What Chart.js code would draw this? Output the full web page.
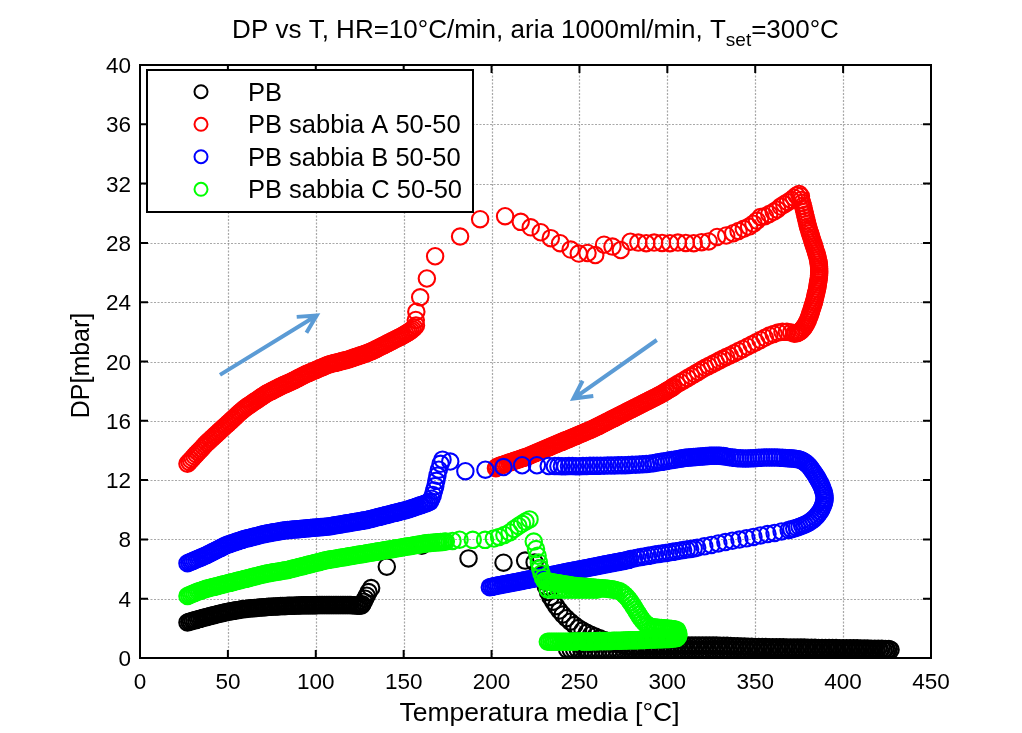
<!DOCTYPE html>
<html>
<head>
<meta charset="utf-8">
<script src="https://cdn.jsdelivr.net/npm/chart.js@4.4.1/dist/chart.umd.min.js"></script>
<style>
  html, body { margin: 0; padding: 0; background: #ffffff; }
  canvas { display: block; }
</style>
</head>
<body>
<canvas id="c" width="1022" height="733" style="width:1022px;height:733px"></canvas>
<script>
// Axis ticks
const xTicks = [0, 50, 100, 150, 200, 250, 300, 350, 400, 450];
const yTicks = [0, 4, 8, 12, 16, 20, 24, 28, 32, 36, 40];

const seriesNames = ['PB', 'PB sabbia A 50-50', 'PB sabbia B 50-50', 'PB sabbia C 50-50'];

// Measurements: flat lists of [T, DP, T, DP, ...]
// --- PB ---
const pbHeat = [27,2.40, 28,2.44, 29,2.47, 30,2.51, 31,2.54, 32,2.57, 33,2.61, 34,2.64, 35,2.67, 36,2.71, 37,2.74, 38,2.77, 39,2.80, 40,2.83, 41,2.86, 42,2.89, 43,2.92, 44,2.95, 45,2.98, 46,3.01, 47,3.04, 48,3.07, 49,3.09, 50,3.12, 51,3.14, 52,3.16, 53,3.18, 54,3.20, 55,3.22, 56,3.24, 57,3.26, 58,3.28, 59,3.30, 60,3.31, 61,3.33, 62,3.34, 63,3.35, 64,3.36, 65,3.37, 66,3.38, 67,3.39, 68,3.40, 69,3.41, 70,3.42, 71,3.43, 72,3.44, 73,3.45, 74,3.46, 75,3.46, 76,3.47, 77,3.48, 78,3.48, 79,3.49, 80,3.50, 81,3.50, 82,3.51, 83,3.51, 84,3.52, 85,3.52, 86,3.53, 87,3.53, 88,3.53, 89,3.54, 90,3.54, 91,3.54, 92,3.55, 93,3.55, 94,3.55, 95,3.55, 96,3.56, 97,3.56, 98,3.56, 99,3.56, 100,3.56, 101,3.57, 102,3.57, 103,3.57, 104,3.57, 105,3.57, 106,3.57, 107,3.57, 108,3.57, 109,3.58, 110,3.58, 111,3.58, 112,3.58, 113,3.58, 114,3.58, 115,3.58, 116,3.58, 117,3.58, 118,3.57, 119,3.57, 120,3.57, 121,3.56, 122,3.55, 123,3.54, 124,3.53, 125,3.52, 126,3.54];
const pbJump = [126.5,3.62, 127.3,3.80, 128.1,4.00, 129,4.20, 130,4.45, 131.5,4.72, 140.4,6.16, 160.3,7.58, 186.9,6.72, 206.8,6.43, 219.1,6.57, 224.5,6.45];
const pbFall = [227.3,6.05, 228.4,5.60, 229.6,5.20, 230.8,4.85, 232.1,4.45, 233.5,4.12, 235.1,3.80, 236.8,3.50, 238.6,3.20, 240.5,2.93, 242.6,2.68, 244.8,2.45, 247.1,2.22, 249.4,2.02, 251.8,1.85, 254.2,1.70, 256.6,1.57, 259,1.45, 261.5,1.33, 264,1.22, 266.6,1.12, 269.2,1.03, 271.8,0.95, 274.5,0.88, 277.3,0.82, 280.1,0.77];
const pbLowA = [243,0.57, 245,0.56, 247,0.56, 249,0.55, 251,0.55, 253,0.55, 255,0.54, 257,0.54, 259,0.54, 261,0.55, 263,0.55, 265,0.55, 267,0.56, 269,0.56, 271,0.55, 273,0.56, 275,0.56, 277,0.57, 279,0.56, 281,0.56, 283,0.57, 285,0.57, 287,0.56, 289,0.57, 291,0.57, 293,0.58, 295,0.57, 297,0.57, 299,0.56, 301,0.57, 303,0.57, 305,0.56, 307,0.57, 309,0.56, 311,0.56, 313,0.57, 315,0.56, 317,0.56, 319,0.55, 321,0.56, 323,0.56, 325,0.57, 327,0.56, 329,0.56, 331,0.55, 333,0.56, 335,0.56, 337,0.56, 339,0.57, 341,0.56, 343,0.56, 345,0.55, 347,0.56, 349,0.56, 351,0.56, 353,0.55, 355,0.56, 357,0.56, 359,0.56, 361,0.55, 363,0.56, 365,0.56, 367,0.55, 369,0.56, 371,0.56, 373,0.55, 375,0.56, 377,0.56, 379,0.55, 381,0.56, 383,0.55, 385,0.56, 387,0.56, 389,0.55, 391,0.56, 393,0.55, 395,0.56, 397,0.55, 399,0.56, 401,0.55, 403,0.56, 405,0.55, 407,0.55, 409,0.56, 411,0.55, 413,0.55, 415,0.56, 417,0.55, 419,0.55, 421,0.55, 423,0.56, 425,0.55, 427,0.55];
const pbLowB = [282,0.78, 284,0.79, 286,0.80, 288,0.80, 290,0.81, 292,0.81, 294,0.82, 296,0.82, 298,0.82, 300,0.83, 302,0.83, 304,0.83, 306,0.84, 308,0.84, 310,0.84, 312,0.85, 314,0.85, 316,0.85, 318,0.85, 320,0.85, 322,0.85, 324,0.84, 326,0.84, 328,0.84, 330,0.83, 332,0.83, 334,0.82, 336,0.81, 338,0.80, 340,0.79, 342,0.78, 344,0.77, 346,0.76, 348,0.76, 350,0.75, 352,0.75, 354,0.74, 356,0.74, 358,0.73, 360,0.73, 362,0.72, 364,0.72, 366,0.72, 368,0.71, 370,0.71, 372,0.71, 374,0.70, 376,0.70, 378,0.70, 380,0.69, 382,0.69, 384,0.69, 386,0.68, 388,0.68, 390,0.68, 392,0.67, 394,0.67, 396,0.67, 398,0.66, 400,0.66, 402,0.66, 404,0.65, 406,0.65, 408,0.65, 410,0.64, 412,0.64, 414,0.64, 416,0.63, 418,0.63, 420,0.62, 422,0.62, 424,0.61, 426,0.60];

// --- PB sabbia A 50-50 ---
const aHeat = [27,13.10, 28,13.23, 29,13.36, 30,13.49, 31,13.62, 32,13.75, 33,13.88, 34,14.00, 35,14.12, 36,14.25, 37,14.38, 38,14.50, 39,14.61, 40,14.72, 41,14.83, 42,14.94, 43,15.05, 44,15.16, 45,15.27, 46,15.38, 47,15.49, 48,15.60, 49,15.70, 50,15.81, 51,15.92, 52,16.03, 53,16.14, 54,16.25, 55,16.36, 56,16.47, 57,16.58, 58,16.68, 59,16.78, 60,16.87, 61,16.96, 62,17.04, 63,17.12, 64,17.20, 65,17.28, 66,17.36, 67,17.44, 68,17.52, 69,17.60, 70,17.68, 71,17.76, 72,17.84, 73,17.90, 74,17.96, 75,18.02, 76,18.08, 77,18.14, 78,18.20, 79,18.26, 80,18.32, 81,18.38, 82,18.43, 83,18.48, 84,18.53, 85,18.58, 86,18.64, 87,18.70, 88,18.76, 89,18.82, 90,18.88, 91,18.94, 92,19.00, 93,19.06, 94,19.12, 95,19.18, 96,19.23, 97,19.28, 98,19.33, 99,19.38, 100,19.43, 101,19.48, 102,19.53, 103,19.58, 104,19.63, 105,19.68, 106,19.73, 107,19.78, 108,19.82, 109,19.85, 110,19.88, 111,19.91, 112,19.94, 113,19.97, 114,20.00, 115,20.03, 116,20.06, 117,20.09, 118,20.12, 119,20.16, 120,20.20, 121,20.24, 122,20.28, 123,20.32, 124,20.36, 125,20.40, 126,20.44, 127,20.48, 128,20.52, 129,20.56, 130,20.61, 131,20.66, 132,20.71, 133,20.76, 134,20.82, 135,20.88, 136,20.94, 137,21.00, 138,21.06, 139,21.12, 140,21.18, 141,21.24, 142,21.30, 143,21.36, 144,21.42, 145,21.48, 146,21.54, 147,21.60, 148,21.66, 149,21.72, 150,21.79, 151,21.86, 152,21.93, 153,22.00, 154,22.08, 155,22.17, 156,22.28, 157,22.42];
const aTop = [156.9,22.80, 157.2,23.36, 159.4,24.33, 163.2,25.60, 167.9,27.10, 182.1,28.43, 193.5,29.60, 207.7,29.80, 216.6,29.42, 222.3,29.05, 228,28.72, 233.7,28.32, 239,27.98, 245,27.55, 249.6,27.28, 254.6,27.32, 259,27.18, 264,27.88, 268.8,27.75, 273.5,27.52, 279,28.08, 283.5,28.02, 288,27.98, 292.5,28.02, 297,28.00, 301.5,27.98, 306,28.02, 310.5,28.00, 315,27.98, 319.5,28.05, 323.5,28.10, 328.3,28.40, 333.5,28.50, 337.5,28.65, 340.5,28.80, 343.5,28.95, 346.5,29.10, 349,29.30, 351,29.50, 353,29.75, 355.5,29.80, 358,29.95, 360.5,30.10, 362.5,30.25, 364.5,30.45, 366.5,30.60, 368.5,30.75, 370.5,30.90, 372,31.05, 373.5,31.20, 375,31.30, 376,31.15];
const aTurn = [376.2,30.90, 376.7,30.70, 377.2,30.50, 377.6,30.30, 378.0,30.10, 378.4,29.90, 378.8,29.70, 379.2,29.50, 379.6,29.30, 380.0,29.10, 380.4,28.95, 380.8,28.80, 381.2,28.65, 381.6,28.50, 382.0,28.35, 382.4,28.20, 382.8,28.05, 383.2,27.90, 383.6,27.75, 384.0,27.60, 384.4,27.45, 384.8,27.30, 385.2,27.15, 385.5,27.00, 385.8,26.85, 386.0,26.70, 386.2,26.55, 386.3,26.40, 386.4,26.25, 386.4,26.10, 386.4,25.95, 386.3,25.80, 386.2,25.65, 386.0,25.50, 385.8,25.35, 385.6,25.20, 385.4,25.05, 385.2,24.90, 384.9,24.75, 384.6,24.60, 384.3,24.45, 384.0,24.30, 383.7,24.15, 383.4,24.00, 383.0,23.85, 382.6,23.70, 382.2,23.55, 381.8,23.40, 381.4,23.25, 381.0,23.10, 380.5,22.95, 380.0,22.80, 379.4,22.65, 378.8,22.50, 378.1,22.37, 377.4,22.25, 376.6,22.14, 375.8,22.05, 374.9,21.98, 374.0,21.93, 373.1,21.90, 372.2,21.88];
const aCoolSparse = [370.5,21.95, 368,22.00, 365.5,22.00, 363,21.95, 360.5,21.85, 358,21.75, 355.5,21.60, 353,21.45, 350.5,21.30, 348,21.15, 345.5,21.00, 343,20.85, 340.5,20.70, 338,20.55, 335.5,20.40, 333.5,20.30, 331.5,20.18, 329.5,20.06, 327.5,19.94, 325.5,19.82, 323.5,19.70, 321.5,19.58, 319.5,19.44, 317.5,19.30, 315.5,19.16, 313.5,19.02, 311.5,18.88, 309.5,18.74, 307.5,18.60, 305.5,18.46, 303.5,18.32];
const aCool = [303,18.25, 302,18.18, 301,18.11, 300,18.04, 299,17.97, 298,17.90, 297,17.83, 296,17.76, 295,17.70, 294,17.64, 293,17.58, 292,17.52, 291,17.46, 290,17.40, 289,17.34, 288,17.28, 287,17.22, 286,17.16, 285,17.10, 284,17.04, 283,16.98, 282,16.92, 281,16.86, 280,16.80, 279,16.74, 278,16.68, 277,16.62, 276,16.56, 275,16.50, 274,16.44, 273,16.38, 272,16.32, 271,16.26, 270,16.20, 269,16.14, 268,16.08, 267,16.02, 266,15.96, 265,15.90, 264,15.84, 263,15.78, 262,15.72, 261,15.66, 260,15.60, 259,15.54, 258,15.48, 257,15.43, 256,15.38, 255,15.33, 254,15.28, 253,15.23, 252,15.18, 251,15.13, 250,15.08, 249,15.03, 248,14.98, 247,14.93, 246,14.88, 245,14.83, 244,14.78, 243,14.73, 242,14.68, 241,14.63, 240,14.58, 239,14.53, 238,14.48, 237,14.43, 236,14.38, 235,14.33, 234,14.28, 233,14.23, 232,14.18, 231,14.13, 230,14.08, 229,14.03, 228,13.98, 227,13.93, 226,13.88, 225,13.83, 224,13.78, 223,13.73, 222,13.68, 221,13.63, 220,13.58, 219,13.54, 218,13.50, 217,13.46, 216,13.42, 215,13.38, 214,13.34, 213,13.30, 212,13.26, 211,13.22, 210,13.18, 209,13.14, 208,13.10, 207,13.06, 206,13.02, 205,12.98, 204,12.93, 203,12.88, 202.5,12.80];

// --- PB sabbia B 50-50 ---
const bHeat = [27,6.39, 28,6.44, 29,6.49, 30,6.54, 31,6.59, 32,6.64, 33,6.69, 34,6.74, 35,6.79, 36,6.85, 37,6.90, 38,6.95, 39,7.01, 40,7.07, 41,7.13, 42,7.19, 43,7.25, 44,7.31, 45,7.37, 46,7.43, 47,7.49, 48,7.55, 49,7.60, 50,7.65, 51,7.69, 52,7.73, 53,7.77, 54,7.81, 55,7.85, 56,7.89, 57,7.93, 58,7.97, 59,8.01, 60,8.04, 61,8.07, 62,8.10, 63,8.13, 64,8.16, 65,8.19, 66,8.22, 67,8.25, 68,8.28, 69,8.31, 70,8.34, 71,8.37, 72,8.40, 73,8.42, 74,8.44, 75,8.46, 76,8.48, 77,8.50, 78,8.52, 79,8.54, 80,8.56, 81,8.58, 82,8.60, 83,8.62, 84,8.63, 85,8.64, 86,8.65, 87,8.66, 88,8.67, 89,8.68, 90,8.69, 91,8.70, 92,8.71, 93,8.72, 94,8.73, 95,8.75, 96,8.76, 97,8.77, 98,8.78, 99,8.79, 100,8.80, 101,8.81, 102,8.82, 103,8.83, 104,8.84, 105,8.85, 106,8.86, 107,8.87, 108,8.89, 109,8.91, 110,8.93, 111,8.95, 112,8.97, 113,8.99, 114,9.01, 115,9.03, 116,9.05, 117,9.07, 118,9.09, 119,9.11, 120,9.13, 121,9.15, 122,9.17, 123,9.19, 124,9.21, 125,9.23, 126,9.25, 127,9.27, 128,9.29, 129,9.31, 130,9.34, 131,9.37, 132,9.40, 133,9.43, 134,9.46, 135,9.49, 136,9.52, 137,9.55, 138,9.58, 139,9.61, 140,9.64, 141,9.67, 142,9.70, 143,9.73, 144,9.76, 145,9.79, 146,9.82, 147,9.85, 148,9.88, 149,9.91, 150,9.94, 151,9.97, 152,10.00, 153,10.04, 154,10.08, 155,10.12, 156,10.16, 157,10.20, 158,10.24, 159,10.28, 160,10.32, 161,10.36, 162,10.40, 163,10.44, 164,10.49, 165,10.55];
const bJump = [165.8,10.75, 166.6,11.00, 167.3,11.30, 168,11.60, 168.6,11.95, 169.2,12.30, 170,12.70, 171,13.10, 172.1,13.38, 176.5,13.25, 185.1,12.60, 196.5,12.70, 206.8,12.88, 217.4,13.00, 225.8,13.00, 232.5,12.95];
const bTopSparse = [236,12.95, 238,12.95, 240,12.94, 242,12.94, 244,12.95, 246,12.95, 248,12.94, 250,12.94, 252,12.95, 254,12.95, 256,12.96, 258,12.96, 260,12.96, 262,12.97, 264,12.97, 266,12.98, 268,12.98, 270,12.99, 272,13.00, 274,13.00, 276,13.01, 278,13.02, 280,13.03, 282,13.04, 284,13.05, 286,13.07, 288,13.09, 290,13.11, 292,13.14, 293.5,13.17, 295,13.20, 296.5,13.23, 298,13.26, 299.5,13.29, 301,13.32, 302.5,13.35, 304,13.38, 305.5,13.41, 307,13.44];
const bTop = [308,13.46, 309,13.48, 310,13.50, 311,13.51, 312,13.52, 313,13.53, 314,13.54, 315,13.55, 316,13.56, 317,13.57, 318,13.58, 319,13.59, 320,13.60, 321,13.61, 322,13.62, 323,13.63, 324,13.64, 325,13.64, 326,13.65, 327,13.65, 328,13.65, 329,13.65, 330,13.64, 331,13.63, 332,13.62, 333,13.60, 334,13.57, 335.5,13.54, 337,13.52, 338.5,13.50, 340,13.48, 341.5,13.47, 343,13.46, 344.5,13.46, 346,13.46, 347.5,13.47, 349,13.48, 350.5,13.49, 352,13.50, 353.5,13.51, 355,13.52, 356.5,13.53, 358,13.53, 359.5,13.53, 361,13.52, 362.5,13.52, 364,13.51, 365.5,13.50, 367,13.49, 368.5,13.48, 369.5,13.47, 370.5,13.46, 371.5,13.45, 372.5,13.44, 373.5,13.43, 374.5,13.41];
const bTurn = [375.5,13.38, 376.5,13.33, 377.5,13.26, 378.5,13.18, 379.5,13.08, 380.5,12.97, 381.3,12.85, 382.1,12.72, 382.9,12.58, 383.7,12.44, 384.5,12.30, 385.3,12.15, 386.0,12.00, 386.7,11.85, 387.3,11.70, 387.9,11.55, 388.4,11.40, 388.8,11.25, 389.2,11.10, 389.4,10.95, 389.5,10.80, 389.4,10.65, 389.2,10.50, 388.8,10.35, 388.3,10.20, 387.7,10.05, 387.0,9.90, 386.2,9.76, 385.3,9.62, 384.3,9.49, 383.2,9.37, 382.0,9.26, 380.8,9.16, 379.5,9.07, 378.1,8.99, 376.7,8.92, 375.2,8.85, 373.7,8.79, 372.2,8.73, 370.6,8.68, 369,8.63];
const bCoolSparse = [365,8.54, 361,8.44, 357,8.36, 353,8.27, 349,8.17, 345,8.07, 341,7.99, 337,7.91, 333,7.82, 329,7.73, 325,7.63, 321,7.53, 317,7.44, 315,7.38, 313,7.35, 311,7.32, 309,7.28, 307,7.24, 305,7.20, 303,7.16, 301,7.12, 299,7.08, 297,7.05, 295,7.02, 293,6.98, 291,6.93, 289,6.89, 287,6.85, 285,6.81, 283,6.76, 281,6.72, 279,6.68];
const bCool = [278,6.62, 277,6.60, 276,6.58, 275,6.55, 274,6.53, 273,6.51, 272,6.48, 271,6.46, 270,6.44, 269,6.41, 268,6.39, 267,6.37, 266,6.34, 265,6.32, 264,6.30, 263,6.27, 262,6.25, 261,6.23, 260,6.20, 259,6.18, 258,6.16, 257,6.13, 256,6.11, 255,6.09, 254,6.06, 253,6.04, 252,6.02, 251,5.99, 250,5.97, 249,5.95, 248,5.92, 247,5.90, 246,5.88, 245,5.85, 244,5.83, 243,5.81, 242,5.78, 241,5.76, 240,5.74, 239,5.71, 238,5.69, 237,5.67, 236,5.64, 235,5.62, 234,5.60, 233,5.57, 232,5.55, 231,5.53, 230,5.50, 229,5.48, 228,5.46, 227,5.43, 226,5.41, 225,5.39, 224,5.36, 223,5.34, 222,5.32, 221,5.29, 220,5.27, 219,5.25, 218,5.22, 217,5.20, 216,5.18, 215,5.15, 214,5.13, 213,5.11, 212,5.08, 211,5.06, 210,5.04, 209,5.01, 208,4.99, 207,4.97, 206,4.94, 205,4.92, 204,4.90, 203,4.87, 202,4.85, 201,4.82, 200,4.80, 199,4.78];

// --- PB sabbia C 50-50 ---
const cHeat = [27,4.18, 28,4.23, 29,4.28, 30,4.33, 31,4.38, 32,4.43, 33,4.48, 34,4.52, 35,4.56, 36,4.60, 37,4.64, 38,4.68, 39,4.71, 40,4.74, 41,4.77, 42,4.80, 43,4.83, 44,4.86, 45,4.89, 46,4.92, 47,4.95, 48,4.98, 49,5.01, 50,5.04, 51,5.07, 52,5.10, 53,5.13, 54,5.16, 55,5.19, 56,5.22, 57,5.25, 58,5.28, 59,5.31, 60,5.34, 61,5.37, 62,5.40, 63,5.43, 64,5.46, 65,5.49, 66,5.52, 67,5.55, 68,5.58, 69,5.61, 70,5.64, 71,5.67, 72,5.70, 73,5.72, 74,5.74, 75,5.76, 76,5.78, 77,5.80, 78,5.82, 79,5.84, 80,5.86, 81,5.88, 82,5.90, 83,5.92, 84,5.94, 85,5.97, 86,6.00, 87,6.03, 88,6.06, 89,6.09, 90,6.12, 91,6.15, 92,6.18, 93,6.21, 94,6.24, 95,6.27, 96,6.30, 97,6.33, 98,6.36, 99,6.39, 100,6.42, 101,6.45, 102,6.48, 103,6.51, 104,6.54, 105,6.57, 106,6.60, 107,6.62, 108,6.64, 109,6.66, 110,6.68, 111,6.70, 112,6.72, 113,6.74, 114,6.76, 115,6.78, 116,6.80, 117,6.82, 118,6.84, 119,6.86, 120,6.88, 121,6.90, 122,6.92, 123,6.94, 124,6.96, 125,6.98, 126,7.00, 127,7.02, 128,7.04, 129,7.06, 130,7.08, 131,7.10, 132,7.12, 133,7.14, 134,7.16, 135,7.18, 136,7.20, 137,7.22, 138,7.24, 139,7.26, 140,7.28, 141,7.30, 142,7.32, 143,7.34, 144,7.36, 145,7.38, 146,7.40, 147,7.42, 148,7.44, 149,7.46, 150,7.48, 151,7.50, 152,7.52, 153,7.54, 154,7.56, 155,7.58, 156,7.60, 157,7.62, 158,7.64, 159,7.66, 160,7.68, 161,7.70, 162,7.72, 163,7.74, 164,7.75, 165,7.76, 166,7.77, 167,7.78, 168,7.79, 169,7.80, 170,7.81, 171,7.82, 172,7.83, 173,7.84, 174,7.85];
const cSparse = [177.8,7.90, 181.8,7.98, 189.3,7.97, 196.3,7.97, 201.3,8.06, 204.3,8.17, 207.3,8.30, 210.3,8.47, 212.8,8.70, 215.3,8.90, 217.3,9.05, 219.3,9.20, 221.6,9.35];
const cDrop = [224,7.85, 225.3,7.35, 226.2,6.90, 226.9,6.45, 227.6,6.05, 228.4,5.70, 229.3,5.40, 230.3,5.20];
const cPlateau = [231,5.18, 232,5.16, 233,5.14, 234,5.12, 235,5.10, 236,5.08, 237,5.06, 238,5.04, 239,5.02, 240,5.00, 241,4.98, 242,4.96, 243,4.94, 244,4.92, 245,4.90, 246,4.88, 247,4.86, 248,4.85, 249,4.84, 250,4.83, 251,4.82, 252,4.81, 253,4.80, 254,4.79, 255,4.78, 256,4.77, 257,4.76, 258,4.75, 259,4.74, 260,4.73, 261,4.72, 262,4.71, 263,4.70, 264,4.69, 265,4.68, 266,4.67, 267,4.66, 268,4.64, 269,4.62, 270,4.60, 271.5,4.56,
  232,4.62, 234,4.61, 236,4.61, 238,4.60, 240,4.60, 242,4.60, 244,4.60, 246,4.60, 248,4.60, 250,4.60, 252,4.60, 254,4.60, 256,4.60, 258,4.60, 260,4.60];
const cSlope = [273,4.50, 274.5,4.38, 275.8,4.24, 277,4.10, 278.1,3.94, 279.1,3.77, 280.1,3.60, 281,3.43, 281.9,3.26, 282.8,3.08, 283.7,2.91, 284.6,2.74, 285.6,2.58, 286.7,2.43, 287.8,2.30, 289,2.20, 290.3,2.12, 291.5,2.08, 292.5,2.06, 293.5,2.05, 294.5,2.04, 295.5,2.03, 296.5,2.02, 297.5,2.01, 298.5,2.00, 299.5,1.99, 300.5,1.98, 301.5,1.97, 302.5,1.96, 303.5,1.94, 304.5,1.92, 305.5,1.88, 305.8,1.78, 306.2,1.66, 306.3,1.55, 306.1,1.44, 305.5,1.36, 304.5,1.31];
const cLow = [303,1.30, 302,1.30, 301,1.29, 300,1.29, 299,1.28, 298,1.28, 297,1.27, 296,1.27, 295,1.26, 294,1.26, 293,1.25, 292,1.25, 291,1.24, 290,1.24, 289,1.23, 288,1.23, 287,1.22, 286,1.22, 285,1.21, 284,1.21, 283,1.20, 282,1.20, 281,1.20, 280,1.19, 279,1.19, 278,1.19, 277,1.18, 276,1.18, 275,1.18, 274,1.17, 273,1.17, 272,1.17, 271,1.16, 270,1.16, 269,1.16, 268,1.15, 267,1.15, 266,1.15, 265,1.15, 264,1.14, 263,1.14, 262,1.14, 261,1.14, 260,1.13, 259,1.13, 258,1.13, 257,1.13, 256,1.12, 255,1.12, 254,1.12, 253,1.12, 252,1.12, 251,1.11, 250,1.11, 249,1.11, 248,1.11, 247,1.11, 246,1.11, 245,1.10, 244,1.10, 243,1.10, 242,1.10, 241,1.10, 240,1.10, 239,1.10, 238,1.10, 237,1.10, 236,1.10, 235,1.10, 234,1.10, 233,1.10, 232,1.10];

// Direction arrows (heating / cooling), in data units
const arrowHeating = { from: [45.5, 19.1], to: [100.5, 23.1] };
const arrowCooling = { from: [294, 21.45], to: [246.6, 17.5] };

const FONT = "'Liberation Sans', Arial, Helvetica, sans-serif";
const COLORS = ['#000000', '#ff0000', '#0000ff', '#00ff00'];

function toPoints(flat) {
  const pts = [];
  for (let i = 0; i + 1 < flat.length; i += 2) pts.push({ x: flat[i], y: flat[i + 1] });
  return pts;
}

const seriesData = [
  [...pbHeat, ...pbJump, ...pbFall, ...pbLowA, ...pbLowB],
  [...aHeat, ...aTop, ...aTurn, ...aCoolSparse, ...aCool],
  [...bHeat, ...bJump, ...bTopSparse, ...bTop, ...bTurn, ...bCoolSparse, ...bCool],
  [...cHeat, ...cSparse, ...cDrop, ...cPlateau, ...cSlope, ...cLow]
];

function drawArrow(ctx, x1, y1, x2, y2) {
  const ang = Math.atan2(y2 - y1, x2 - x1);
  const head = 20, spread = Math.PI / 6.5;
  ctx.beginPath();
  ctx.moveTo(x1, y1);
  ctx.lineTo(x2, y2);
  ctx.moveTo(x2 - head * Math.cos(ang - spread), y2 - head * Math.sin(ang - spread));
  ctx.lineTo(x2, y2);
  ctx.lineTo(x2 - head * Math.cos(ang + spread), y2 - head * Math.sin(ang + spread));
  ctx.stroke();
}

const frame = {
  id: 'frame',
  beforeDraw(chart) {
    const ctx = chart.ctx;
    ctx.save();
    ctx.fillStyle = '#ffffff';
    ctx.fillRect(0, 0, chart.width, chart.height);
    ctx.restore();
  },
  beforeDatasetsDraw(chart) {
    const { ctx, chartArea: a, scales: { x, y } } = chart;
    ctx.save();
    ctx.strokeStyle = 'rgba(110,110,110,0.6)';
    ctx.lineWidth = 1.2;
    ctx.setLineDash([2, 1.5]);
    xTicks.forEach(v => {
      const px = Math.round(x.getPixelForValue(v)) + 0.5;
      if (v === xTicks[0] || v === xTicks[xTicks.length - 1]) return;
      ctx.beginPath(); ctx.moveTo(px, a.top); ctx.lineTo(px, a.bottom); ctx.stroke();
    });
    yTicks.forEach(v => {
      const py = Math.round(y.getPixelForValue(v)) + 0.5;
      if (v === yTicks[0] || v === yTicks[yTicks.length - 1]) return;
      ctx.beginPath(); ctx.moveTo(a.left, py); ctx.lineTo(a.right, py); ctx.stroke();
    });
    ctx.restore();
  },
  afterDatasetsDraw(chart) {
    const { ctx, chartArea: a, scales: { x, y } } = chart;
    ctx.save();

    // arrows
    ctx.strokeStyle = '#5b9bd5';
    ctx.lineWidth = 4;
    ctx.lineCap = 'butt';
    ctx.lineJoin = 'miter';
    [arrowHeating, arrowCooling].forEach(ar => {
      drawArrow(ctx, x.getPixelForValue(ar.from[0]), y.getPixelForValue(ar.from[1]),
                x.getPixelForValue(ar.to[0]), y.getPixelForValue(ar.to[1]));
    });

    // axes box and inward ticks
    ctx.strokeStyle = '#000';
    ctx.lineWidth = 2;
    ctx.strokeRect(a.left, a.top, a.right - a.left, a.bottom - a.top);
    const tl = 8;
    ctx.beginPath();
    xTicks.forEach(v => {
      const px = x.getPixelForValue(v);
      ctx.moveTo(px, a.bottom); ctx.lineTo(px, a.bottom - tl);
      ctx.moveTo(px, a.top); ctx.lineTo(px, a.top + tl);
    });
    yTicks.forEach(v => {
      const py = y.getPixelForValue(v);
      ctx.moveTo(a.left, py); ctx.lineTo(a.left + tl, py);
      ctx.moveTo(a.right, py); ctx.lineTo(a.right - tl, py);
    });
    ctx.stroke();

    // tick labels
    ctx.fillStyle = '#000';
    ctx.font = '22.5px ' + FONT;
    ctx.textAlign = 'center';
    ctx.textBaseline = 'alphabetic';
    xTicks.forEach(v => ctx.fillText(String(v), x.getPixelForValue(v), a.bottom + 31));
    ctx.textAlign = 'right';
    yTicks.forEach(v => ctx.fillText(String(v), a.left - 9, y.getPixelForValue(v) + 8));

    // axis titles
    ctx.font = '26.5px ' + FONT;
    ctx.textAlign = 'center';
    ctx.fillText('Temperatura media [°C]', (a.left + a.right) / 2 + 4, a.bottom + 63);
    ctx.save();
    ctx.translate(89, (a.top + a.bottom) / 2 + 4);
    ctx.rotate(-Math.PI / 2);
    ctx.font = '25px ' + FONT;
    ctx.fillText('DP[mbar]', 0, 0);
    ctx.restore();

    // title with subscript
    const t1 = 'DP vs T, HR=10°C/min, aria 1000ml/min, T';
    const tsub = 'set';
    const t2 = '=300°C';
    ctx.font = '26px ' + FONT;
    const w1 = ctx.measureText(t1).width;
    const w3 = ctx.measureText(t2).width;
    ctx.font = '19px ' + FONT;
    const w2 = ctx.measureText(tsub).width;
    const total = w1 + w2 + w3;
    let tx = (a.left + a.right) / 2 - total / 2;
    const ty = 38;
    ctx.textAlign = 'left';
    ctx.font = '26px ' + FONT;
    ctx.fillText(t1, tx, ty);
    ctx.font = '19px ' + FONT;
    ctx.fillText(tsub, tx + w1, ty + 8);
    ctx.font = '26px ' + FONT;
    ctx.fillText(t2, tx + w1 + w2, ty);

    // legend
    const lx = 147, ly = 70, lw = 326, lh = 142;
    ctx.fillStyle = '#fff';
    ctx.fillRect(lx, ly, lw, lh);
    ctx.strokeStyle = '#000';
    ctx.lineWidth = 2;
    ctx.strokeRect(lx, ly, lw, lh);
    const rows = [91.7, 124.3, 156.7, 189.3];
    chart.data.datasets.forEach((ds, i) => {
      ctx.beginPath();
      ctx.arc(201, rows[i], 6.5, 0, Math.PI * 2);
      ctx.strokeStyle = ds.pointBorderColor;
      ctx.lineWidth = 2;
      ctx.stroke();
      ctx.fillStyle = '#000';
      ctx.font = '25.5px ' + FONT;
      ctx.textAlign = 'left';
      ctx.fillText(ds.label, 248, rows[i] + 9);
    });
    ctx.restore();
  }
};

const drawOrder = [4, 3, 2, 1];

new Chart(document.getElementById('c'), {
  type: 'scatter',
  data: {
    datasets: seriesNames.map((name, i) => ({
      label: name,
      data: toPoints(seriesData[i]),
      showLine: false,
      pointStyle: 'circle',
      pointRadius: 8.2,
      pointBorderWidth: 2.1,
      pointBorderColor: COLORS[i],
      pointBackgroundColor: 'rgba(0,0,0,0)',
      order: drawOrder[i]
    }))
  },
  options: {
    responsive: false,
    animation: false,
    devicePixelRatio: 1,
    events: [],
    layout: { padding: { left: 140, right: 91, top: 65, bottom: 75 } },
    scales: {
      x: { type: 'linear', min: 0, max: 450, display: false },
      y: { type: 'linear', min: 0, max: 40, display: false }
    },
    plugins: {
      legend: { display: false },
      title: { display: false },
      tooltip: { enabled: false }
    }
  },
  plugins: [frame]
});
</script>
</body>
</html>
